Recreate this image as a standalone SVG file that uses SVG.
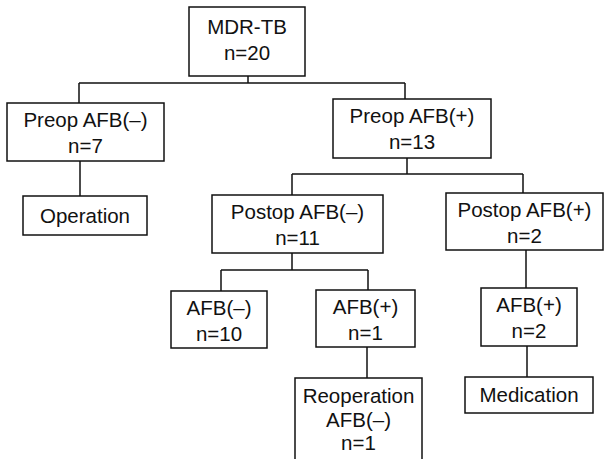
<svg xmlns="http://www.w3.org/2000/svg" width="608" height="459" viewBox="0 0 608 459">
<style>
rect{fill:#fff;stroke:#111;stroke-width:1.5}
#connectors path{fill:none;stroke:#111;stroke-width:1.5}
text{font-family:"Liberation Sans",Arial,sans-serif;font-size:20.5px;fill:#111;text-anchor:middle}
</style>
<rect x="0" y="0" width="608" height="459" style="stroke:none"/>
<g id="connectors">
<path d="M248,76V83M79,83H405M79,83V103M405,83V99"/>
<path d="M80,161V196"/>
<path d="M407,158V174M292,174H523M292,174V195M523,174V193"/>
<path d="M292,253V270M221,270H368M221,270V291M368,270V290"/>
<path d="M367,347V378"/>
<path d="M526,250V288"/>
<path d="M527,346V377"/>
</g>
<g id="mdr"><rect x="189" y="7" width="116" height="69"/><text x="247" y="34">MDR-TB</text><text x="247" y="60">n=20</text></g>
<g id="preop-neg"><rect x="7" y="103" width="157" height="58"/><text x="85.5" y="127">Preop AFB(–)</text><text x="85.5" y="153">n=7</text></g>
<g id="operation"><rect x="23" y="196" width="124" height="39"/><text x="85" y="223">Operation</text></g>
<g id="preop-pos"><rect x="333" y="99" width="158" height="59"/><text x="412" y="123">Preop AFB(+)</text><text x="412" y="149">n=13</text></g>
<g id="postop-neg"><rect x="212" y="195" width="171" height="58"/><text x="297.5" y="219">Postop AFB(–)</text><text x="297.5" y="245">n=11</text></g>
<g id="postop-pos"><rect x="446" y="193" width="157" height="57"/><text x="524.5" y="217">Postop AFB(+)</text><text x="524.5" y="243">n=2</text></g>
<g id="afb-neg-10"><rect x="171" y="291" width="96" height="57"/><text x="219" y="315">AFB(–)</text><text x="219" y="341">n=10</text></g>
<g id="afb-pos-1"><rect x="316" y="290" width="99" height="57"/><text x="365.5" y="314">AFB(+)</text><text x="365.5" y="340">n=1</text></g>
<g id="reoperation"><rect x="295" y="378" width="127" height="92"/><text x="358.5" y="403">Reoperation</text><text x="358.5" y="427">AFB(–)</text><text x="358.5" y="450">n=1</text></g>
<g id="afb-pos-2"><rect x="481" y="288" width="96" height="58"/><text x="529" y="312">AFB(+)</text><text x="529" y="338">n=2</text></g>
<g id="medication"><rect x="465" y="377" width="128" height="36"/><text x="529" y="402">Medication</text></g>
</svg>
